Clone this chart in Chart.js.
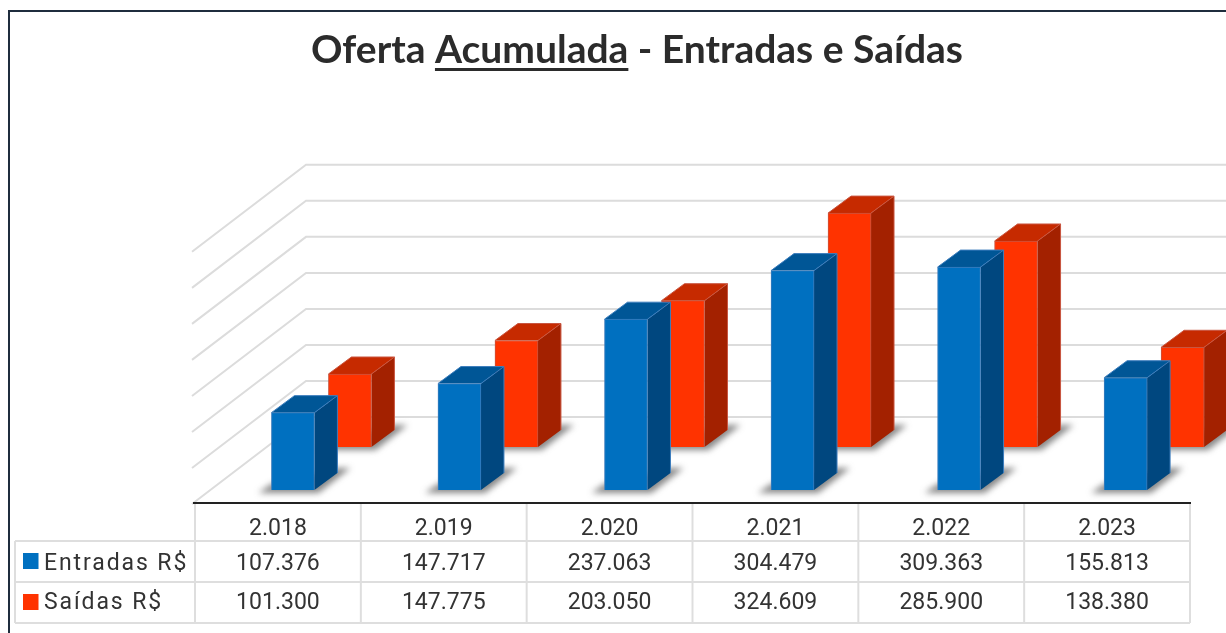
<!DOCTYPE html>
<html lang="pt-BR">
<head>
<meta charset="utf-8">
<title>Oferta Acumulada - Entradas e Saídas</title>
<script src="https://cdn.jsdelivr.net/npm/chart.js@4"></script>
<style>
    html, body { margin: 0; padding: 0; background: #fff; overflow: hidden; }
    canvas { position: absolute; left: 0; top: 0; filter: blur(0.4px); }
    #moldura { position: absolute; left: 8px; top: 10px; right: 0; bottom: 0; border-left: 2px solid #1f2d3d; border-top: 2px solid #1f2d3d; }
</style>
</head>
<body>
<canvas id="grafico" width="1226" height="633"></canvas>
<div id="moldura"></div>
<script>
const anos = ['2.018', '2.019', '2.020', '2.021', '2.022', '2.023'];
const entradas = [107376, 147717, 237063, 304479, 309363, 155813];
const saidas = [101300, 147775, 203050, 324609, 285900, 138380];
const nomes = ['Entradas R$', 'Saídas R$'];
const titulo = 'Oferta Acumulada - Entradas e Saídas';
const sublinhado = 'Acumulada';

// cores: frente, lateral, topo, borda
const azul = ['#0070c0', '#00477f', '#005696', '#3c7dbd'];
const vermelho = ['#ff3300', '#a32100', '#c62a00', '#c9553f'];

// deslocamento de cada fileira no "chao" do grafico 3D
const fileiraX = [15, 72];
const fileiraY = [0, 43];
const fundoY = 73;
const inclinacao = 1.31;
const profX = 23;
const profY = 17;

const fonteTabela = '400 23px Roboto';

function poligono(ctx, pontos, cor) {
    ctx.fillStyle = cor;
    ctx.beginPath();
    pontos.forEach((p, i) => i ? ctx.lineTo(p[0], p[1]) : ctx.moveTo(p[0], p[1]));
    ctx.closePath();
    ctx.fill();
}

function linha(ctx, x1, y1, x2, y2) {
    ctx.beginPath();
    ctx.moveTo(x1, y1);
    ctx.lineTo(x2, y2);
    ctx.stroke();
}

const efeito3d = {
    id: 'efeito3d',
    afterDatasetsUpdate(chart) {
        chart.data.datasets.forEach((ds, d) => {
            chart.getDatasetMeta(d).data.forEach((barra, i) => {
                barra.x += fileiraX[d] + i * 0.7;
                barra.y -= fileiraY[d];
                barra.base -= fileiraY[d];
            });
        });
    },
    beforeDatasetsDraw(chart) {
        const ctx = chart.ctx;
        const y = chart.scales.y;
        ctx.save();
        ctx.strokeStyle = '#dcdcdc';
        ctx.lineWidth = 2;
        y.ticks.forEach(t => {
            const py = y.getPixelForValue(t.value) - fundoY;
            ctx.beginPath();
            ctx.moveTo(chart.width, py);
            ctx.lineTo(306, py);
            ctx.lineTo(192, py + 114 / inclinacao);
            ctx.stroke();
        });
        ctx.restore();
    },
    beforeDatasetDraw(chart, args) {
        const ctx = chart.ctx;
        const cores = args.index === 0 ? azul : vermelho;
        ctx.save();
        args.meta.data.forEach(barra => {
            const esq = barra.x - barra.width / 2;
            const dir = barra.x + barra.width / 2;
            const base = barra.base;
            // sombra no chao
            ctx.save();
            ctx.filter = 'blur(3px)';
            poligono(ctx, [
                [esq - 13, base + 3], [dir + 4, base + 3], [dir + profX + 13, base - profY - 5],
                [dir + profX, base - profY - 5], [esq, base - 6]
            ], 'rgba(70,70,70,0.65)');
            ctx.restore();
            poligono(ctx, [[dir, barra.y], [dir + profX, barra.y - profY], [dir + profX, base - profY], [dir, base]], cores[1]);
            poligono(ctx, [[esq, barra.y], [dir, barra.y], [dir + profX, barra.y - profY], [esq + profX, barra.y - profY]], cores[2]);
            ctx.strokeStyle = cores[3];
            ctx.lineWidth = 1;
            ctx.beginPath();
            ctx.moveTo(esq, barra.y);
            ctx.lineTo(esq + profX, barra.y - profY);
            ctx.lineTo(dir + profX, barra.y - profY);
            ctx.lineTo(dir + profX, base - profY);
            ctx.moveTo(dir, barra.y);
            ctx.lineTo(dir + profX, barra.y - profY);
            ctx.stroke();
        });
        ctx.restore();
    },
    afterDraw(chart) {
        const ctx = chart.ctx;
        const x = chart.scales.x;
        const passo = x.getPixelForTick(1) - x.getPixelForTick(0);
        const ini = x.getPixelForTick(0) - passo / 2;
        const fim = x.getPixelForTick(anos.length - 1) + passo / 2;
        const linhas = [541, 582, 623];
        const centros = [564, 603];
        const marcas = [553, 594];

        ctx.save();
        // grade da tabela de dados
        ctx.strokeStyle = '#dedede';
        ctx.lineWidth = 2;
        linhas.forEach(py => linha(ctx, 15, py, fim, py));
        linha(ctx, 15, 541, 15, 623);
        for (let i = 0; i <= anos.length; i++) {
            const px = ini + i * passo;
            linha(ctx, px, 503, px, 623);
        }
        ctx.strokeStyle = '#222';
        linha(ctx, ini - 2, 503, fim + 1, 503);

        // valores e legenda
        ctx.textBaseline = 'middle';
        [entradas, saidas].forEach((serie, s) => {
            ctx.fillStyle = s === 0 ? azul[0] : vermelho[0];
            ctx.fillRect(23, marcas[s], 15.5, 16);
            ctx.fillStyle = '#333';
            ctx.font = fonteTabela;
            ctx.textAlign = 'left';
            ctx.letterSpacing = '1.9px';
            ctx.fillText(nomes[s], 44, centros[s]);
            ctx.letterSpacing = '0px';
            ctx.textAlign = 'center';
            serie.forEach((v, i) => {
                ctx.fillText(v.toLocaleString('pt-BR'), x.getPixelForTick(i), centros[s]);
            });
        });

        // sublinhado do titulo
        const opt = chart.options.plugins.title;
        ctx.font = `${opt.font.weight} ${opt.font.size}px ${opt.font.family}`;
        const bloco = chart.titleBlock;
        const total = ctx.measureText(titulo).width;
        const antes = ctx.measureText(titulo.slice(0, titulo.indexOf(sublinhado))).width;
        const esq = bloco.left + bloco.width / 2 - total / 2 + antes;
        ctx.fillStyle = opt.color;
        ctx.fillRect(esq, 68, ctx.measureText(sublinhado).width, 3);
        ctx.restore();
    }
};

new Chart(document.getElementById('grafico').getContext('2d'), {
    type: 'bar',
    data: {
        labels: anos,
        datasets: [
            { label: nomes[0], data: entradas, backgroundColor: azul[0], borderColor: azul[3], borderWidth: 1, clip: false },
            { label: nomes[1], data: saidas, backgroundColor: vermelho[0], borderColor: vermelho[3], borderWidth: 1, clip: false }
        ]
    },
    options: {
        responsive: false,
        animation: false,
        grouped: false,
        barThickness: 43,
        layout: { padding: { left: 48 } },
        plugins: {
            legend: { display: false },
            tooltip: { enabled: false },
            title: {
                display: true,
                text: titulo,
                color: '#2b2b2b',
                font: { family: 'Lato', size: 39, weight: '700', lineHeight: 1.2 },
                padding: { top: 27, bottom: 164 }
            }
        },
        scales: {
            x: {
                offset: true,
                grid: { display: false },
                border: { display: false },
                ticks: { color: '#333', padding: 17, font: { family: 'Roboto', size: 23, weight: '400' }, maxRotation: 0 },
                afterFit(s) { s.height = 143; }
            },
            y: {
                min: 0,
                max: 350000,
                ticks: { stepSize: 50000, display: false },
                grid: { display: false },
                border: { display: false },
                afterFit(s) { s.width = 147; }
            },
            yDireita: {
                type: 'linear',
                position: 'right',
                ticks: { display: false },
                grid: { display: false },
                border: { display: false },
                afterFit(s) { s.width = 36; }
            }
        }
    },
    plugins: [efeito3d]
});
</script>
</body>
</html>
